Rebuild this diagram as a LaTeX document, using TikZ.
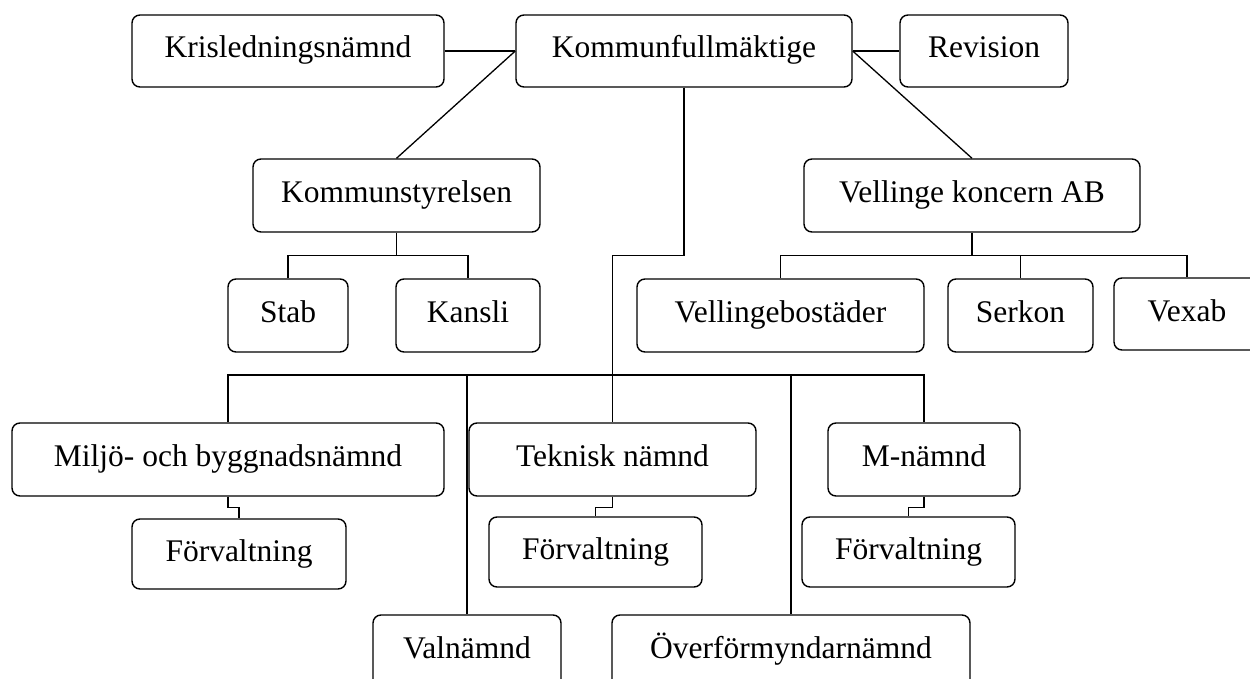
\documentclass[tikz,border=0pt]{standalone}
\usepackage{fontspec}
\setmainfont{Liberation Serif}
\begin{document}
\begin{tikzpicture}[x=1pt,y=-1pt,
  orgbox/.style={draw, line width=1.4pt, rounded corners=8pt, inner sep=0pt,
    minimum height=73pt, text height=21pt, text depth=7pt,
    font=\fontsize{31.5}{36}\selectfont},
  conn/.style={line width=1.3pt}]
\useasboundingbox (0,0) rectangle (1250,679);
\clip (0,0) rectangle (1250,679);
% boxes
\node[orgbox, minimum width=312pt, minimum height=72pt] (kris) at (288,51) {Krisledningsnämnd};
\node[orgbox, minimum width=336pt, minimum height=72pt] (kf) at (684,51) {Kommunfullmäktige};
\node[orgbox, minimum width=168pt, minimum height=72pt] (rev) at (984,51) {Revision};
\node[orgbox, minimum width=287pt] (ks) at (396.5,195.5) {Kommunstyrelsen};
\node[orgbox, minimum width=336pt] (vk) at (972,195.5) {Vellinge koncern AB};
\node[orgbox, minimum width=120pt] (stab) at (288,315.5) {Stab};
\node[orgbox, minimum width=144pt] (kansli) at (468,315.5) {Kansli};
\node[orgbox, minimum width=287pt] (vb) at (780.5,315.5) {Vellingebostäder};
\node[orgbox, minimum width=145pt] (serkon) at (1020.5,315.5) {Serkon};
\node[orgbox, minimum width=146pt, minimum height=72pt] (vexab) at (1187,314) {Vexab};
\node[orgbox, minimum width=432pt] (miljo) at (228,459.5) {Miljö- och byggnadsnämnd};
\node[orgbox, minimum width=287pt] (tek) at (612.5,459.5) {Teknisk nämnd};
\node[orgbox, minimum width=192pt] (mn) at (924,459.5) {M-nämnd};
\node[orgbox, minimum width=214pt, minimum height=70pt] (f1) at (239,554) {Förvaltning};
\node[orgbox, minimum width=213pt, minimum height=70pt] (f2) at (595.5,552) {Förvaltning};
\node[orgbox, minimum width=213pt, minimum height=70pt] (f3) at (908.5,552) {Förvaltning};
\node[orgbox, minimum width=188pt, minimum height=72pt] (val) at (467,651) {Valnämnd};
\node[orgbox, minimum width=358pt, minimum height=72pt] (overf) at (791,651) {Överförmyndarnämnd};
\coordinate (bus) at (0,375);
% connectors
\draw[conn] (kris.east) -- (kf.west);
\draw[conn] (kf.east) -- (rev.west);
\draw[conn] (kf.west) -- (ks.north);
\draw[conn] (kf.east) -- (vk.north);
\draw[conn] (kf.south) -- ++(0,168) -| (tek.north);
\draw[conn] (miljo.north) -- (miljo.north |- bus) -- (mn.north |- bus) -- (mn.north);
\draw[conn] (val.north) -- (val.north |- bus);
\draw[conn] (overf.north) -- (overf.north |- bus);
\draw[conn] (ks.south) -- ++(0,23) coordinate (ksj);
\draw[conn] (stab.north) |- (ksj) -| (kansli.north);
\draw[conn] (vk.south) -- ++(0,23) coordinate (vkj);
\draw[conn] (vb.north) |- (vkj) -| (vexab.north);
\draw[conn] (serkon.north) -- (serkon.north |- vkj);
\draw[conn] (miljo.south) -- ++(0,11) -| (f1.north);
\draw[conn] (tek.south) -- ++(0,11) -| (f2.north);
\draw[conn] (mn.south) -- ++(0,11) -| (f3.north);
\end{tikzpicture}
\end{document}
